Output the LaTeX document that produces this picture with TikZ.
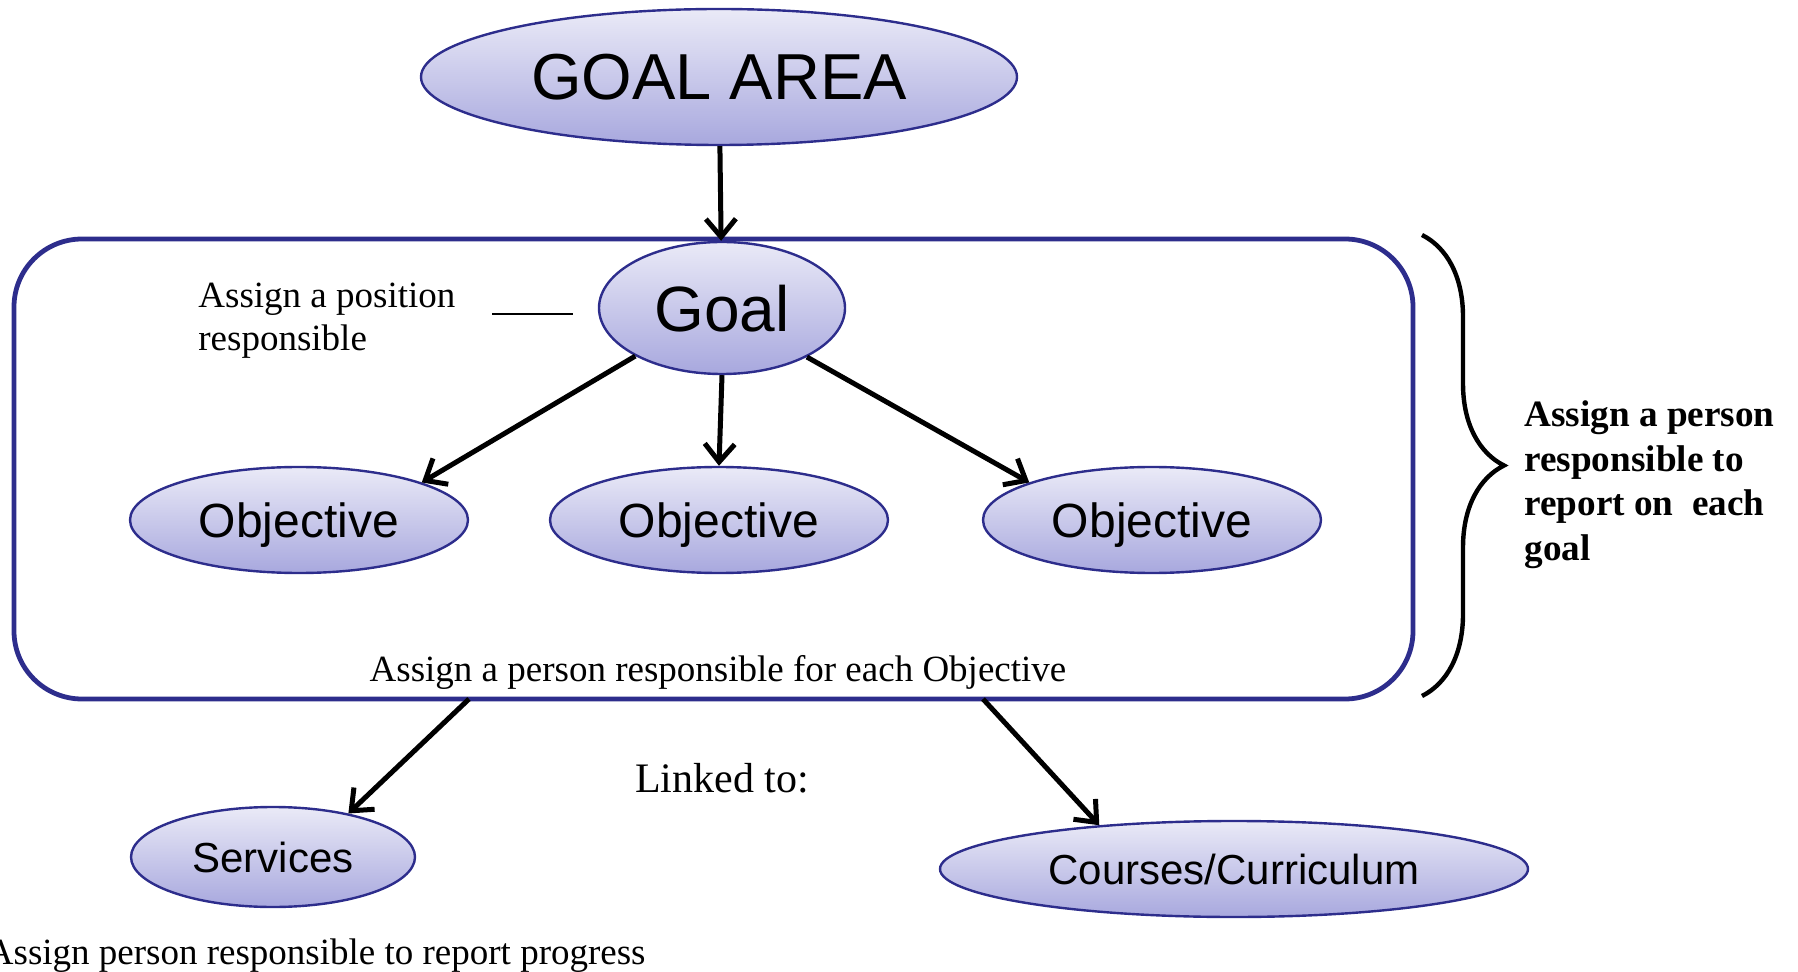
\documentclass[tikz,border=0pt]{standalone}
\usepackage{fontspec}
\setmainfont{Liberation Serif}
\newfontfamily\arial{Liberation Sans}
\usetikzlibrary{shapes.geometric,arrows.meta,decorations.pathreplacing}
\definecolor{rim}{RGB}{45,45,140}
\definecolor{shadetop}{RGB}{234,234,247}
\definecolor{shadebot}{RGB}{168,168,222}

\begin{document}
\begin{tikzpicture}[x=0.5pt, y=-0.5pt,
  oval/.style = {ellipse, draw=rim, line width=1.2pt, top color=shadetop, bottom color=shadebot, inner sep=0pt, text depth=0pt, font=\arial},
  arr/.style = {-{Straight Barb[length=9pt,width=15pt]}, line width=2.5pt},
  note/.style = {inner sep=0pt, font=\fontsize{18.5}{21.5}\selectfont}]
\useasboundingbox (0,0) rectangle (1798,972);

% frame round the goal and its objectives
\draw[rim, line width=2.4pt, rounded corners=34pt] (14,239) rectangle (1413,699);
\coordinate (b1) at (469,699);
\coordinate (b2) at (983,699);

\node[oval, minimum width=298pt, minimum height=68pt, font=\arial\fontsize{32.5}{38}\selectfont] (area) at (719,77) {GOAL AREA};
\node[oval, minimum width=123pt, minimum height=66pt, font=\arial\fontsize{32}{38}\selectfont] (goal) at (722,308) {Goal};
\node[oval, minimum width=169pt, minimum height=53pt, font=\arial\fontsize{24}{28}\selectfont] (obj1) at (299,520) {Objective};
\node[oval, minimum width=169pt, minimum height=53pt, font=\arial\fontsize{24}{28}\selectfont] (obj2) at (719,520) {Objective};
\node[oval, minimum width=169pt, minimum height=53pt, font=\arial\fontsize{24}{28}\selectfont] (obj3) at (1152,520) {Objective};
\node[oval, minimum width=142pt, minimum height=50pt, font=\arial\fontsize{21}{25}\selectfont] (svc) at (273,857) {Services};
\node[oval, minimum width=294pt, minimum height=48pt, font=\arial\fontsize{21}{25}\selectfont] (crs) at (1234,869) {Courses/Curriculum};

\draw[arr] (area) -- (goal);
\draw[arr] (goal.209) -- (obj1.17);
\draw[arr] (goal.south) -- (obj2.north);
\draw[arr] (goal.330) -- (obj3.163);
\draw[arr] (b1) -- (svc.30);
\draw[arr] (b2) -- (crs.162);

% labels
\node[note, anchor=base west, align=left] (pos) at (198,351) {Assign a position\\responsible};
\coordinate (t1) at (492,314);
\coordinate (t2) at (573,314);
\draw[line width=1.3pt] (t1) -- (t2);
\node[note, anchor=base] (each) at (718,681) {Assign a person responsible for each Objective};
\node[note, anchor=base, font=\fontsize{21}{25}\selectfont] (link) at (722,792) {Linked to:};
\node[note, anchor=base east] (prog) at (646,964) {Assign person responsible to report progress};

% brace and the duty beside it
\coordinate (br1) at (1422,235);
\coordinate (br2) at (1422,696);
\draw[line width=2.2pt, decorate, decoration={brace, amplitude=41pt}] (br1) -- (br2);
\node[note, anchor=base west, align=left, font=\bfseries\fontsize{18.6}{22.2}\selectfont] (duty) at (1524,560) {Assign a person\\responsible to\\report on\ \ each\\goal};
\end{tikzpicture}
\end{document}
